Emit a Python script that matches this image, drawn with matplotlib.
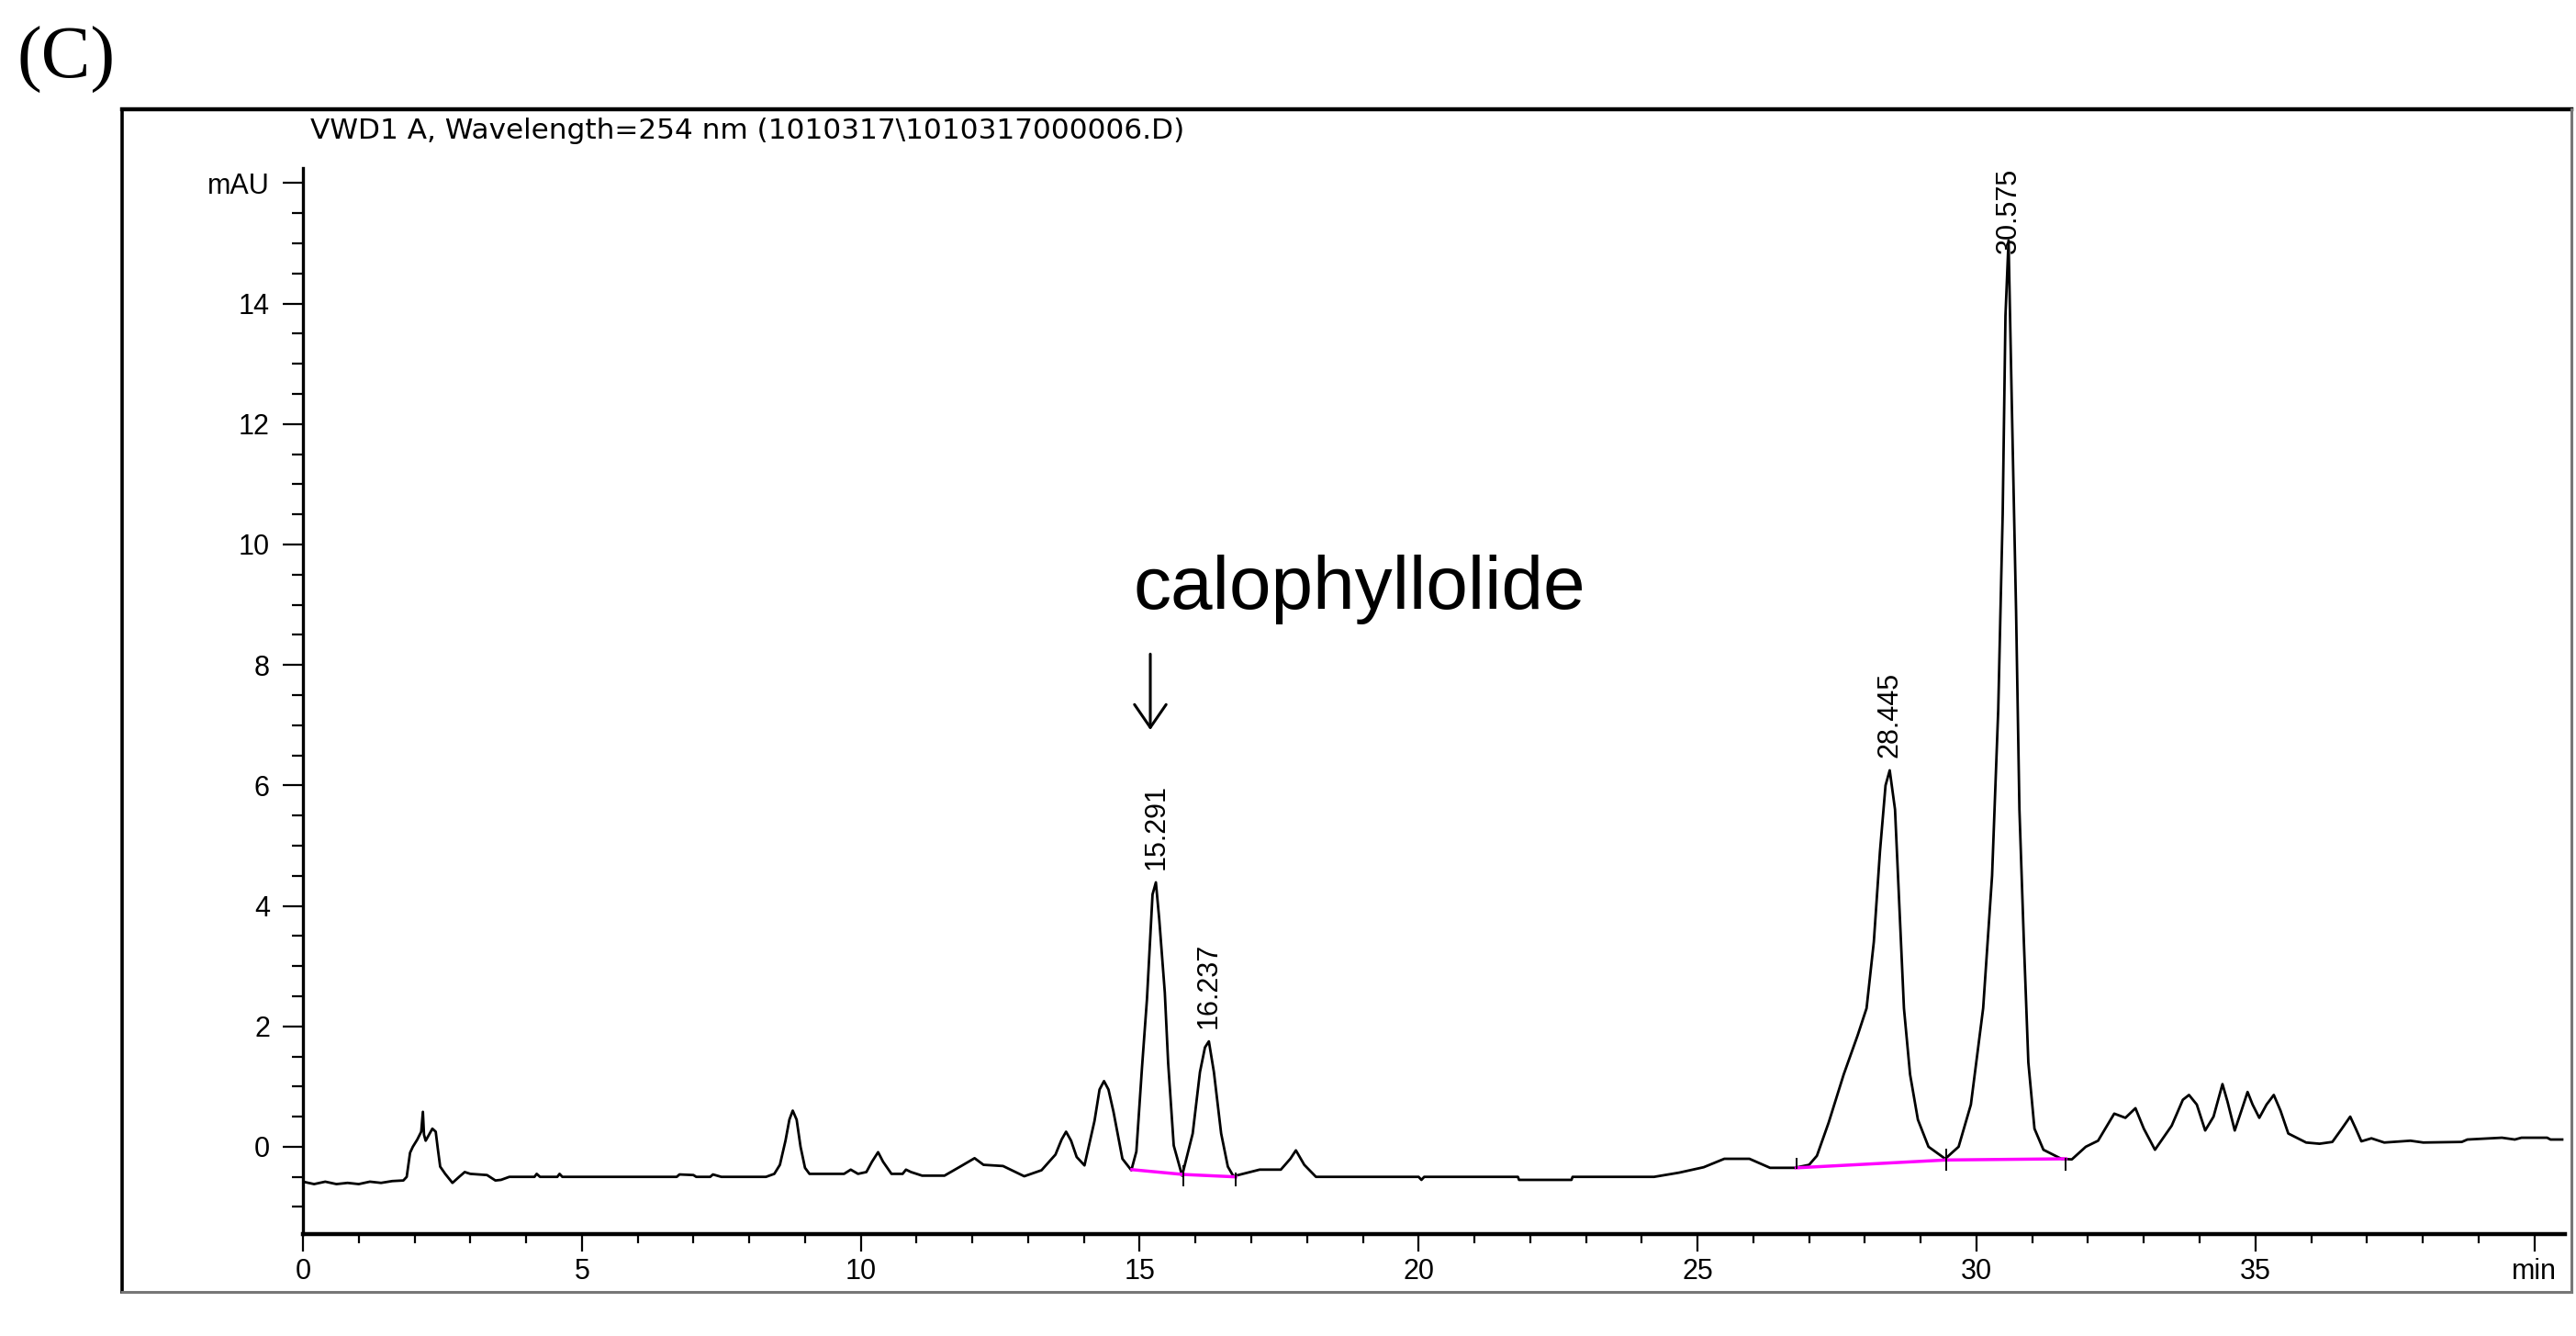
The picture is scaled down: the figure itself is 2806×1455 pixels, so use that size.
import matplotlib
matplotlib.use('Agg')
import matplotlib.pyplot as plt
from matplotlib.lines import Line2D
from matplotlib.ticker import MultipleLocator, FixedLocator, FixedFormatter

# chromatogram trace (min, mAU)
time_min = [
    0.0, 0.2, 0.4, 0.6, 0.8, 1.0, 1.2, 1.4, 1.6, 1.8, 1.86, 1.92, 1.97, 2.05, 2.12,
    2.15, 2.17, 2.2, 2.26, 2.32, 2.38, 2.42, 2.46, 2.55, 2.68, 2.8, 2.9, 3.0, 3.3,
    3.45, 3.55, 3.7, 4.15, 4.19, 4.25, 4.56, 4.6, 4.65, 6.7, 6.75, 7.0, 7.05, 7.3,
    7.35, 7.5, 8.3, 8.45, 8.55, 8.65, 8.72, 8.78, 8.85, 8.92, 9.0, 9.08, 9.7, 9.82,
    9.95, 10.1, 10.2, 10.31, 10.4, 10.55, 10.75, 10.81, 10.9, 11.1, 11.5, 11.8,
    12.04, 12.2, 12.55, 12.93, 13.24, 13.49, 13.6, 13.68, 13.77, 13.87, 14.01,
    14.19, 14.28, 14.36, 14.44, 14.53, 14.69, 14.85, 14.94, 15.04, 15.13, 15.23,
    15.29, 15.35, 15.45, 15.51, 15.61, 15.76, 15.95, 16.08, 16.17, 16.24, 16.33,
    16.46, 16.58, 16.68, 17.15, 17.53, 17.7, 17.8, 17.95, 18.16, 20.0, 20.05,
    20.1, 21.78, 21.8, 22.74, 22.76, 24.22, 24.67, 25.11, 25.48, 25.93, 26.3,
    26.74, 27.0, 27.14, 27.35, 27.62, 27.87, 28.03, 28.16, 28.27, 28.37, 28.445,
    28.54, 28.62, 28.7, 28.81, 28.95, 29.14, 29.44, 29.68, 29.9, 30.12, 30.28,
    30.39, 30.47, 30.52, 30.575, 30.63, 30.71, 30.77, 30.85, 30.93, 31.04, 31.2,
    31.52, 31.71, 31.96, 32.18, 32.47, 32.67, 32.85, 33.0, 33.2, 33.5, 33.7,
    33.81, 33.95, 34.1, 34.25, 34.41, 34.5, 34.63, 34.75, 34.86, 34.95, 35.07,
    35.2, 35.33, 35.45, 35.59, 35.91, 36.15, 36.38, 36.55, 36.7, 36.8, 36.9,
    37.08, 37.31, 37.78, 38.01, 38.7, 38.8, 39.42, 39.65, 39.77, 40.23, 40.29,
    40.5,
]
signal_mau = [
    -0.58, -0.62, -0.58, -0.62, -0.6, -0.62, -0.58, -0.6, -0.57, -0.56, -0.5, -0.1,
    0.0, 0.12, 0.25, 0.58, 0.2, 0.1, 0.2, 0.3, 0.25, -0.05, -0.33, -0.45, -0.6,
    -0.5, -0.42, -0.45, -0.47, -0.56, -0.55, -0.5, -0.5, -0.45, -0.5, -0.5, -0.45,
    -0.5, -0.5, -0.46, -0.47, -0.5, -0.5, -0.46, -0.5, -0.5, -0.45, -0.3, 0.1,
    0.45, 0.6, 0.45, 0.0, -0.35, -0.45, -0.45, -0.38, -0.45, -0.42, -0.25, -0.09,
    -0.25, -0.45, -0.45, -0.38, -0.42, -0.48, -0.48, -0.32, -0.19, -0.3, -0.32,
    -0.49, -0.39, -0.13, 0.12, 0.25, 0.1, -0.17, -0.31, 0.43, 0.95, 1.09, 0.95,
    0.58, -0.2, -0.39, -0.08, 1.3, 2.45, 4.19, 4.39, 3.78, 2.56, 1.39, 0.02,
    -0.48, 0.22, 1.24, 1.65, 1.75, 1.24, 0.22, -0.33, -0.49, -0.38, -0.38, -0.2,
    -0.06, -0.3, -0.5, -0.5, -0.55, -0.5, -0.5, -0.55, -0.55, -0.5, -0.5, -0.43,
    -0.34, -0.2, -0.2, -0.35, -0.35, -0.3, -0.15, 0.4, 1.2, 1.85, 2.3, 3.4, 4.9,
    6.0, 6.25, 5.6, 3.95, 2.3, 1.2, 0.45, 0.0, -0.2, 0.0, 0.7, 2.3, 4.5, 7.25,
    10.5, 13.8, 15.05, 12.5, 8.9, 5.6, 3.4, 1.4, 0.3, -0.05, -0.2, -0.21, 0.0,
    0.1, 0.55, 0.48, 0.64, 0.3, -0.05, 0.35, 0.78, 0.86, 0.7, 0.27, 0.5, 1.04,
    0.75, 0.27, 0.6, 0.91, 0.7, 0.48, 0.7, 0.86, 0.6, 0.22, 0.07, 0.05, 0.08, 0.3,
    0.5, 0.3, 0.09, 0.14, 0.07, 0.1, 0.07, 0.08, 0.12, 0.15, 0.12, 0.15, 0.15,
    0.12, 0.12,
]

# integrated peaks
peak_times = [15.291, 16.237, 28.445, 30.575]
peak_labels = ['15.291', '16.237', '28.445', '30.575']
peak_apex = [4.39, 1.75, 6.25, 15.05]

# integration baselines (magenta) and their boundary marks
base_t0 = [14.86, 15.78, 26.77, 29.45]
base_t1 = [15.78, 16.72, 29.45, 31.60]
base_y0 = [-0.38, -0.46, -0.35, -0.22]
base_y1 = [-0.46, -0.50, -0.22, -0.20]
mark_t = [15.78, 16.72, 26.77, 29.45, 31.60]
mark_top = [-0.31, -0.43, -0.18, -0.03, -0.18]
mark_bot = [-0.66, -0.66, -0.36, -0.4, -0.4]

y_major = [0, 2, 4, 6, 8, 10, 12, 14, 16]
y_major_labels = ['0', '2', '4', '6', '8', '10', '12', '14', 'mAU']
x_major = [0, 5, 10, 15, 20, 25, 30, 35, 40]
x_major_labels = ['0', '5', '10', '15', '20', '25', '30', '35', 'min']

title = 'VWD1 A, Wavelength=254 nm (1010317\\1010317000006.D)'
compound = 'calophyllolide'


def main():
    W, H = 2806, 1455
    fig = plt.figure(figsize=(W / 100, H / 100), dpi=100)

    # outer screenshot frame
    fx0, fx1, fy0, fy1 = 133 / W, 2801 / W, 1 - 1407 / H, 1 - 119 / H
    fig.add_artist(Line2D([fx0, fx1], [fy1, fy1], color='black', lw=3.2, transform=fig.transFigure))
    fig.add_artist(Line2D([fx0, fx0], [fy0, fy1], color='black', lw=2.6, transform=fig.transFigure))
    fig.add_artist(Line2D([fx0, fx1], [fy0, fy0], color='#777777', lw=2.2, transform=fig.transFigure))
    fig.add_artist(Line2D([fx1, fx1], [fy0, fy1], color='#777777', lw=2.2, transform=fig.transFigure))

    fig.text(18 / W, 1 - 85 / H, '(C)', family='Liberation Serif', fontsize=58, va='baseline', ha='left')
    fig.text(338 / W, 1 - 151 / H, title, family='DejaVu Sans', fontsize=22.4, va='baseline', ha='left')

    ax = fig.add_axes([330 / W, 1 - 1344 / H, (2794 - 330) / W, (1344 - 183) / H])
    ax.plot(time_min, signal_mau, color='black', lw=2.0)

    for t0, t1, y0, y1 in zip(base_t0, base_t1, base_y0, base_y1):
        ax.plot([t0, t1], [y0, y1], color='#ff00ff', lw=2.5)
    ax.vlines(mark_t, mark_bot, mark_top, color='black', lw=1.4)

    ymin, ymax = -1.45, 16.25
    ax.set_xlim(0, 40.55)
    ax.set_ylim(ymin, ymax)

    for t, lab, apex in zip(peak_times, peak_labels, peak_apex):
        if apex + 1.75 > ymax:
            ax.text(t, ymax, lab, rotation=90, ha='center', va='top',
                    family='Liberation Sans', fontsize=22)
        else:
            ax.annotate(lab, (t, apex), xytext=(0, 10), textcoords='offset points',
                        rotation=90, ha='center', va='bottom',
                        family='Liberation Sans', fontsize=22)

    ax.text(14.88, 8.93, compound, family='Liberation Sans', fontsize=59, va='baseline', ha='left')
    ax.annotate('', xy=(15.19, 6.92), xytext=(15.19, 8.18),
                arrowprops=dict(arrowstyle='->,head_length=0.9,head_width=0.62',
                                mutation_scale=20, lw=2.2, color='black',
                                shrinkA=0, shrinkB=0))

    for s in ['top', 'right']:
        ax.spines[s].set_visible(False)
    ax.spines['left'].set_linewidth(2.4)
    ax.spines['bottom'].set_linewidth(3.2)

    ax.xaxis.set_major_locator(FixedLocator(x_major))
    ax.xaxis.set_major_formatter(FixedFormatter(x_major_labels))
    ax.xaxis.set_minor_locator(MultipleLocator(1))
    ax.yaxis.set_major_locator(FixedLocator(y_major))
    ax.yaxis.set_major_formatter(FixedFormatter(y_major_labels))
    ax.yaxis.set_minor_locator(MultipleLocator(0.5))

    ax.tick_params(axis='x', which='major', direction='out', length=14, width=1.6, pad=5, labelsize=22)
    ax.tick_params(axis='x', which='minor', direction='out', length=7, width=1.6)
    ax.tick_params(axis='y', which='major', direction='out', length=16, width=1.6, pad=10, labelsize=22)
    ax.tick_params(axis='y', which='minor', direction='out', length=8.5, width=1.6)
    for lab in ax.get_xticklabels() + ax.get_yticklabels():
        lab.set_family('Liberation Sans')

    fig.savefig('out.png', dpi=100)


if __name__ == '__main__':
    main()
